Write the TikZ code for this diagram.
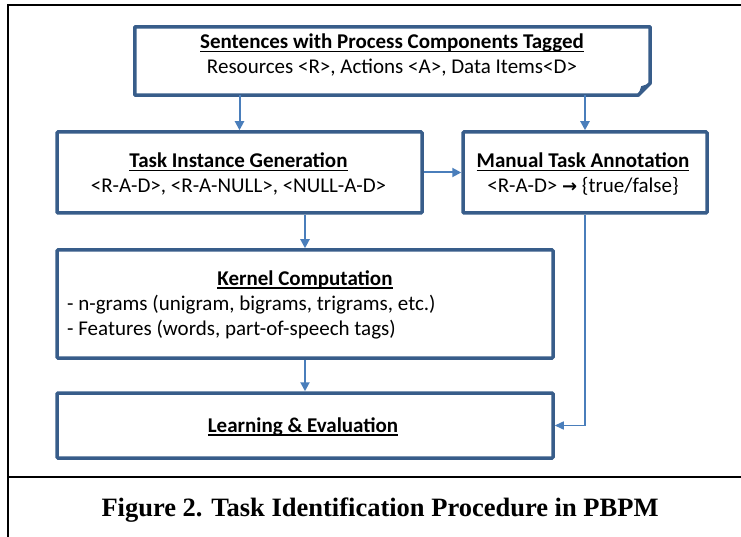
\documentclass[tikz,border=0pt]{standalone}
\usepackage{fontspec}
\setmainfont{Carlito}
\newfontfamily\capfont{Liberation Serif}
\usetikzlibrary{arrows.meta,calc}
\definecolor{boxblue}{RGB}{56,93,138}
\definecolor{arrblue}{RGB}{74,126,187}
\newcommand\ulbox[1]{\setbox0\hbox{#1}\rlap{\rule[-3.5pt]{\wd0}{1.8pt}}\box0}
\begin{document}
\begin{tikzpicture}[x=1pt,y=-1pt,
  txt/.style={font=\fontsize{21}{25}\selectfont, inner sep=0pt, anchor=base},
  ttl/.style={txt, font=\fontsize{21}{25}\selectfont\bfseries},
  box/.style={draw=boxblue, line width=3.5pt, rounded corners=1pt, fill=white, inner sep=0pt},
  arr/.style={draw=arrblue, line width=2pt, -{Triangle[length=9pt,width=9pt]}},
  thinarr/.style={draw=arrblue, line width=1.5pt, -{Triangle[length=9pt,width=8pt]}},
  frame/.style={draw=black, line width=2pt},
]
\useasboundingbox (0,0) rectangle (741,537);
% outer frame and caption separator
\draw[frame] (8,537) -- (8,5) -- (741,5);
\draw[frame] (8,477) -- (741,477);

% top box with folded corner
\node[minimum width=515pt, minimum height=68pt, inner sep=0pt] (top) at (392.5,61) {};
\draw[boxblue, line width=3.5pt, line join=round]
  (top.north west) -- (top.north east) -- ($(top.south east)+(0,-12)$)
  -- ($(top.south east)+(-12,0)$) -- (top.south west) -- cycle;
\fill[boxblue] ($(top.south east)+(0,-12)$) -- ($(top.south east)+(-12,0)$)
  -- ($(top.south east)+(-9,-9)$) -- cycle;
\node[ttl] (topt1) at (392,49) {\ulbox{Sentences with Process Components Tagged}};
\node[txt] (topt2) at (392,74) {Resources <R>, Actions <A>, Data Items<D>};

% task instance generation
\node[box, minimum width=365pt, minimum height=81pt] (task) at (239.5,172.5) {};
\node[ttl] (taskt1) at (238.5,168) {\ulbox{Task Instance Generation}};
\node[txt] (taskt2) at (238.5,193) {<R-A-D>, <R-A-NULL>, <NULL-A-D>};

% manual task annotation
\node[box, minimum width=244pt, minimum height=81pt] (manual) at (585,172.5) {};
\node[ttl] (mant1) at (583,168) {\ulbox{Manual Task Annotation}};
\node[txt] (mant2) at (583,193) {<R-A-D> {\fontspec{DejaVu Sans}\fontsize{18}{25}\selectfont\bfseries→} \{true/false\}};

% kernel computation
\node[box, minimum width=496pt, minimum height=108pt] (kernel) at (305,304) {};
\node[ttl] (kert1) at (305,285) {\ulbox{Kernel Computation}};
\node[txt, anchor=base west] (kert2) at (67,310) {- n-grams (unigram, bigrams, trigrams, etc.)};
\node[txt, anchor=base west] (kert3) at (67,335) {- Features (words, part-of-speech tags)};

% learning & evaluation
\node[box, minimum width=496pt, minimum height=65pt] (learn) at (305,425.5) {};
\node[ttl] (learnt) at (303,432) {\ulbox{Learning \& Evaluation}};

% connectors
\draw[arr] (top.south -| task.north) -- (task.north);
\draw[arr] (top.south -| manual.north) -- (manual.north);
\draw[arr] (task.east) -- (manual.west);
\draw[arr] (task.south -| kernel.north) -- (kernel.north);
\draw[arr] (kernel.south) -- (learn.north);
\draw[thinarr] (manual.south) -- (manual.south |- learn.east) -- (learn.east);

% caption
\node[inner sep=0pt, anchor=base] (caption) at (380,516)
  {\capfont\fontsize{26.5}{30}\selectfont\bfseries Figure 2. Task Identification Procedure in PBPM};
\end{tikzpicture}
\end{document}
